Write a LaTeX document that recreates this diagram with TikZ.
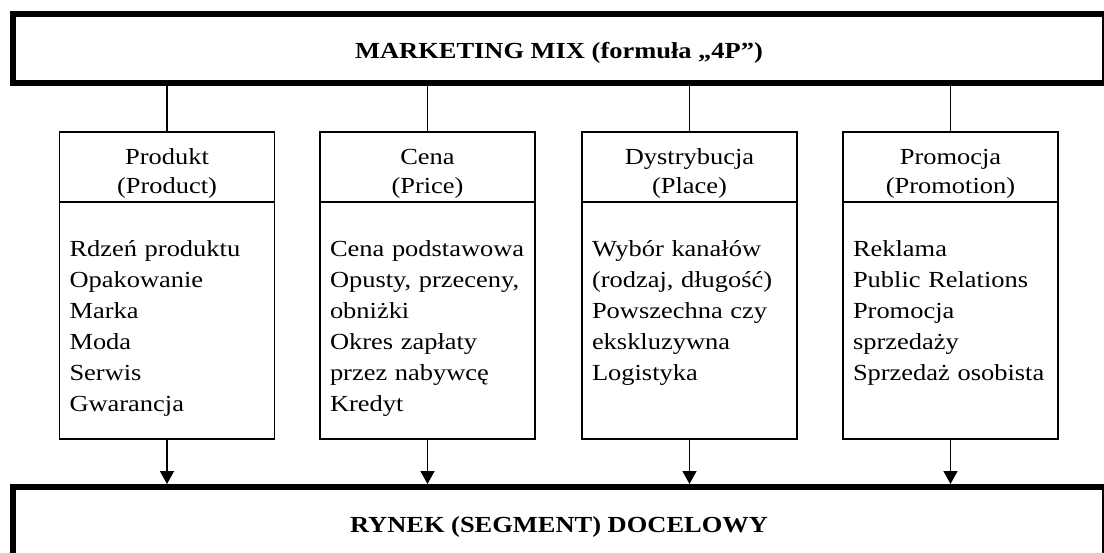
\documentclass[tikz,border=0pt]{standalone}
\usepackage{fontspec}
\setmainfont{Liberation Serif}[FakeStretch=1.15]
\usetikzlibrary{arrows.meta}

\begin{document}
\begin{tikzpicture}[x=1pt, y=-1pt,
    main/.style = {draw, line width=6pt, minimum width=1092pt, minimum height=69pt, inner sep=0pt,
        font=\fontsize{23}{31}\selectfont\bfseries, text height=21pt, text depth=0pt},
    head/.style = {draw, line width=1.5pt, minimum width=215pt, minimum height=70pt, inner sep=0pt,
        text width=205pt, align=center, font=\fontsize{23}{29}\selectfont, text height=33pt, text depth=37pt},
    body/.style = {draw, line width=1.5pt, minimum width=215pt, minimum height=237pt, inner sep=0pt,
        text width=195pt, align=left, font=\fontsize{23}{31}\selectfont, text height=55pt, text depth=182pt},
    link/.style = {line width=1.5pt},
    >={Triangle[length=13pt,width=14pt]}]
    \useasboundingbox (0,0) rectangle (1104,553);
    \clip (0,0) rectangle (1104,553);
    \node at (559,48.5) [main] (mix) {MARKETING MIX (formuła „4P”)};
    \node at (559,521.5) [main] (rynek) {RYNEK (SEGMENT) DOCELOWY};
    \node at (167,167) [head] (h1) {Produkt\\(Product)};
    \node at (427.5,167) [head] (h2) {Cena\\(Price)};
    \node at (689.5,167) [head] (h3) {Dystrybucja\\(Place)};
    \node at (950.5,167) [head] (h4) {Promocja\\(Promotion)};
    \node at (167,320.5) [body] (b1) {Rdzeń produktu\\Opakowanie\\Marka\\Moda\\Serwis\\Gwarancja};
    \node at (427.5,320.5) [body] (b2) {Cena~podstawowa\\Opusty,~przeceny,\\obniżki\\Okres zapłaty\\przez nabywcę\\Kredyt};
    \node at (689.5,320.5) [body] (b3) {Wybór kanałów\\(rodzaj, długość)\\Powszechna czy\\ekskluzywna\\Logistyka};
    \node at (950.5,320.5) [body] (b4) {Reklama\\Public Relations\\Promocja\\sprzedaży\\Sprzedaż~osobista};
    \draw[link] (mix.south -| h1.north) -- (h1.north);
    \draw[link] (mix.south -| h2.north) -- (h2.north);
    \draw[link] (mix.south -| h3.north) -- (h3.north);
    \draw[link] (mix.south -| h4.north) -- (h4.north);
    \draw[link,->] (b1.south) -- (b1.south |- rynek.north);
    \draw[link,->] (b2.south) -- (b2.south |- rynek.north);
    \draw[link,->] (b3.south) -- (b3.south |- rynek.north);
    \draw[link,->] (b4.south) -- (b4.south |- rynek.north);
\end{tikzpicture}
\end{document}
